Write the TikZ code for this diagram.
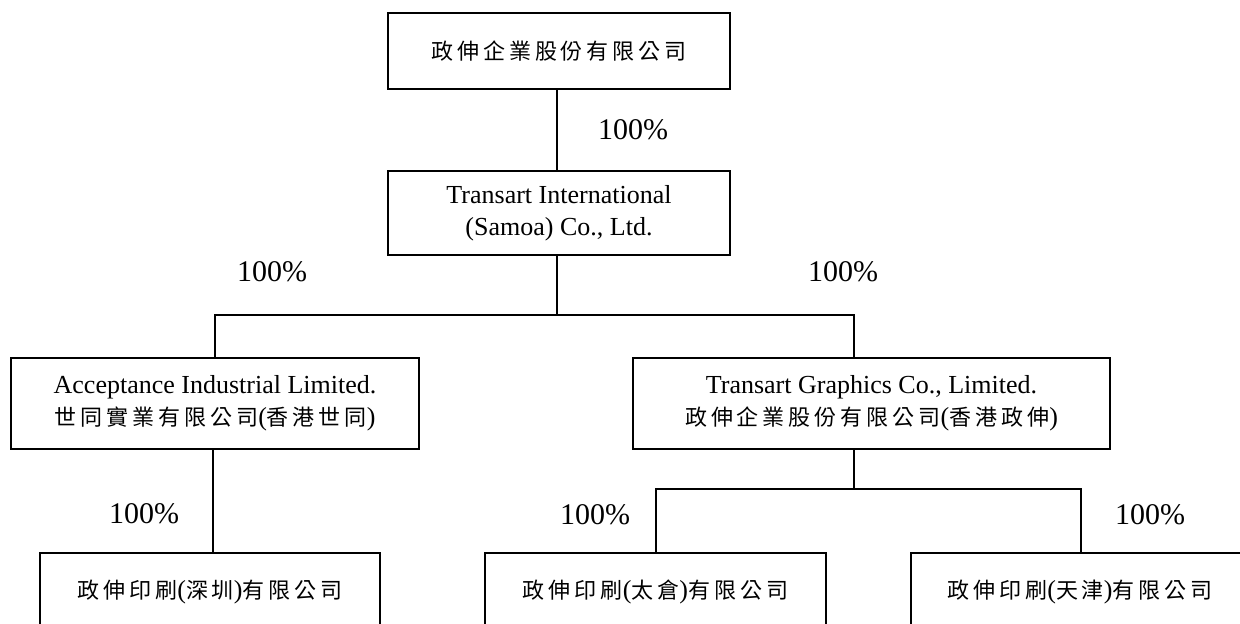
\documentclass[tikz,border=0pt]{standalone}
\usepackage{fontspec}
\setmainfont{Liberation Serif}
\newfontfamily\cjk[LetterSpace=18]{Noto Sans CJK TC}
\newcommand\zh[1]{{\fontsize{11}{16}\cjk #1}}
\begin{document}
\begin{tikzpicture}[x=0.5pt,y=-0.5pt,
  box/.style={draw, line width=0.9pt, align=center, inner sep=0pt,
    font=\fontsize{13}{16}\selectfont},
  pct/.style={font=\fontsize{15}{18}\selectfont, inner sep=0pt},
  link/.style={line width=0.7pt}]
\useasboundingbox (0,0) rectangle (1240,623);
\clip (0,0) rectangle (1240,623);
% boxes
\node[box, minimum width=171pt, minimum height=38pt] (T) at (559,51) {\zh{政伸企業股份有限公司}};
\node[box, minimum width=171pt, minimum height=42pt] (M) at (559,213) {Transart International\\(Samoa) Co., Ltd.};
\node[box, minimum width=204pt, minimum height=45.5pt] (L) at (215,403.5) {Acceptance Industrial Limited.\\\zh{世同實業有限公司}(\zh{香港世同})};
\node[box, minimum width=238.5pt, minimum height=45.5pt] (R) at (871.5,403.5) {Transart Graphics Co., Limited.\\\zh{政伸企業股份有限公司}(\zh{香港政伸})};
\node[box, minimum width=170pt, minimum height=39pt] (B1) at (210,592) {\zh{政伸印刷}(\zh{深圳})\zh{有限公司}};
\node[box, minimum width=170.5pt, minimum height=39pt] (B2) at (655.5,592) {\zh{政伸印刷}(\zh{太倉})\zh{有限公司}};
\node[box, minimum width=169pt, minimum height=39pt] (B3) at (1080,592) {\zh{政伸印刷}(\zh{天津})\zh{有限公司}};
% junction coordinates
\coordinate (tv) at (557,0);
\coordinate (j0) at (557,315);
\coordinate (jl) at (215,315);
\coordinate (jr) at (854,315);
\coordinate (lv) at (213,0);
\coordinate (r0) at (854,489);
\coordinate (r2) at (656,489);
\coordinate (r3) at (1081,489);
% connectors
\draw[link] (tv |- T.south) -- (tv |- M.north);
\draw[link] (j0 |- M.south) -- (j0);
\draw[link] (jl |- L.north) -- (jl) -- (jr) -- (jr |- R.north);
\draw[link] (lv |- L.south) -- (lv |- B1.north);
\draw[link] (r0 |- R.south) -- (r0);
\draw[link] (r2 |- B2.north) -- (r2) -- (r3) -- (r3 |- B3.north);
% labels
\node[pct] (p1) at (633,130) {100\%};
\node[pct] (p2) at (272,272) {100\%};
\node[pct] (p3) at (843,272) {100\%};
\node[pct] (p4) at (144,514) {100\%};
\node[pct] (p5) at (595,515) {100\%};
\node[pct] (p6) at (1150,515) {100\%};
\end{tikzpicture}
\end{document}
